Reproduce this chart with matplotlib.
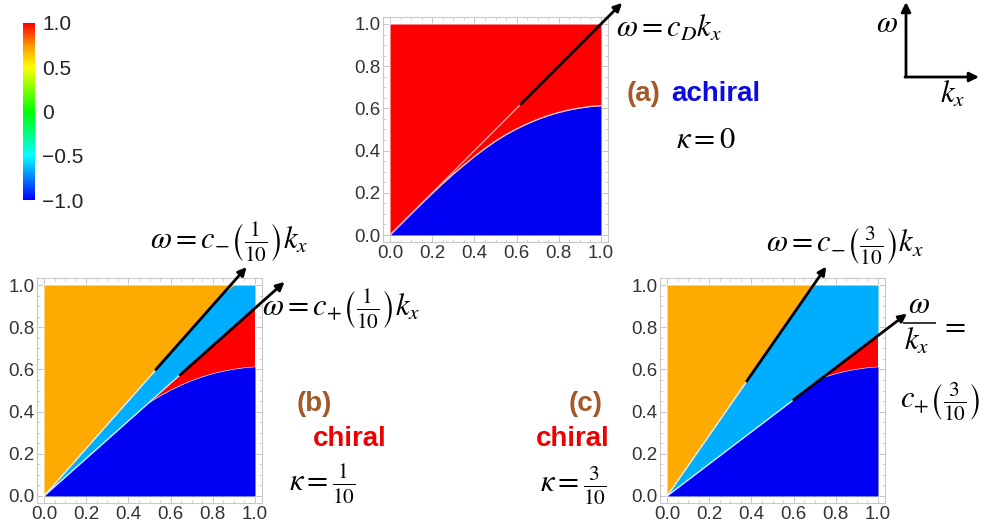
import numpy as np
import matplotlib
matplotlib.use("Agg")
import matplotlib.pyplot as plt
from matplotlib.colors import LinearSegmentedColormap, Normalize
from matplotlib.colorbar import ColorbarBase

plt.rcParams['mathtext.fontset'] = 'stix'
plt.rcParams['font.family'] = ['Liberation Sans', 'DejaVu Sans']

# ---------------- data ----------------
kx = [0.0, 0.05, 0.1, 0.15, 0.2, 0.25, 0.3, 0.35, 0.4, 0.45, 0.5,
      0.55, 0.6, 0.65, 0.7, 0.75, 0.8, 0.85, 0.9, 0.95, 1.0]
omega_curve = [0.0, 0.05, 0.1, 0.149, 0.197, 0.244, 0.289, 0.331, 0.372, 0.41, 0.445,
               0.476, 0.503, 0.527, 0.548, 0.566, 0.581, 0.593, 0.602, 0.609, 0.613]

c_D = 1.0
c_minus = {"b": 1.13, "c": 1.44}
c_plus = {"b": 0.89, "c": 0.76}

# arrow start / end k_x along each line
arrow_a = (0.62, 1.10)
arrow_b_minus = (0.53, 0.96)
arrow_b_plus = (0.645, 1.14)
arrow_c_minus = (0.378, 0.755)
arrow_c_plus = (0.60, 1.137)

cbar_ticks = [1.0, 0.5, 0.0, -0.5, -1.0]
cbar_labels = ["1.0", "0.5", "0", "\u22120.5", "\u22121.0"]
tick_vals = [0.0, 0.2, 0.4, 0.6, 0.8, 1.0]
tick_labels = ["0.0", "0.2", "0.4", "0.6", "0.8", "1.0"]

RED = "#FF0000"
BLUE = "#0000F5"
ORANGE = "#FFAA00"
LBLUE = "#00AEFF"
BROWN = "#A35A28"

W, H = 985, 532
fig = plt.figure(figsize=(W / 100, H / 100), dpi=100)

S = 211.0
M = 0.032


def make_ax(x0, y0):
    left = x0 - M * S
    bottom = y0 + M * S
    size = (1 + 2 * M) * S
    ax = fig.add_axes([left / W, 1 - bottom / H, size / W, size / H])
    ax.set_xlim(-M, 1 + M)
    ax.set_ylim(-M, 1 + M)
    for sp in ax.spines.values():
        sp.set_color("#C8C8C8")
        sp.set_linewidth(0.8)
    ax.set_xticks(tick_vals)
    ax.set_xticklabels(tick_labels)
    ax.set_yticks(tick_vals)
    ax.set_yticklabels(tick_labels)
    ax.set_xticks(np.arange(0, 1.001, 0.05), minor=True)
    ax.set_yticks(np.arange(0, 1.001, 0.05), minor=True)
    ax.tick_params(which="both", direction="in", top=True, right=True,
                   color="#BBBBBB", labelsize=13.5, labelcolor="#333333", pad=2)
    ax.tick_params(which="major", length=4, width=0.6)
    ax.tick_params(which="minor", length=2, width=0.5)
    return ax


k = np.array(kx)
w = np.array(omega_curve)
ones = np.ones_like(k)

ARROW = dict(arrowstyle="-|>", color="black", lw=2, mutation_scale=12,
             shrinkA=0, shrinkB=0)

# ---------------- panel (a) ----------------
axa = make_ax(390, 235)
axa.fill_between(k, w, ones, color=RED, lw=0)
axa.fill_between(k, 0, w, color=BLUE, lw=0)
axa.plot(k, w, color="#FFD0D0", lw=0.9)
axa.plot([0, arrow_a[0]], [0, c_D * arrow_a[0]], color="#FFB0B0", lw=0.9)
axa.annotate("", xy=(arrow_a[1], c_D * arrow_a[1]), xytext=(arrow_a[0], c_D * arrow_a[0]),
             arrowprops=ARROW, annotation_clip=False)


def chiral_panel(ax, cm, cp, am, ap):
    lm = np.minimum(cm * k, 1)
    lp = np.minimum(cp * k, 1)
    ax.fill_between(k, 0, w, color=BLUE, lw=0)
    ax.fill_between(k, lp, lm, color=LBLUE, lw=0)
    ax.fill_between(k, w, lp, where=lp >= w, interpolate=True, color=RED, lw=0)
    ax.fill_between(k, lm, ones, color=ORANGE, lw=0)
    ax.plot([0, am[0]], [0, cm * am[0]], color="#E0F0FF", lw=0.9)
    ax.plot([0, ap[0]], [0, cp * ap[0]], color="#E0F0FF", lw=0.9)
    for (s, e), c in ((am, cm), (ap, cp)):
        ax.annotate("", xy=(e, c * e), xytext=(s, c * s),
                    arrowprops=ARROW, annotation_clip=False)


axb = make_ax(44, 496)
chiral_panel(axb, c_minus["b"], c_plus["b"], arrow_b_minus, arrow_b_plus)
axc = make_ax(667, 496)
chiral_panel(axc, c_minus["c"], c_plus["c"], arrow_c_minus, arrow_c_plus)

# ---------------- colorbar ----------------
cmap = LinearSegmentedColormap.from_list(
    "rb", [(0.0, "#0000FF"), (0.25, "#00FFFF"), (0.5, "#00FF00"),
           (0.75, "#FFFF00"), (0.87, "#FF9900"), (1.0, "#FF0000")])
cax = fig.add_axes([23 / W, 1 - 200 / H, 12 / W, 177 / H])
cb = ColorbarBase(cax, cmap=cmap, norm=Normalize(-1, 1), orientation="vertical")
cb.outline.set_visible(False)
cb.set_ticks(cbar_ticks)
cb.set_ticklabels(cbar_labels)
cax.tick_params(length=0, labelsize=15, labelcolor="#222222", pad=5)

# ---------------- overlay text ----------------
ov = fig.add_axes([0, 0, 1, 1], zorder=10)
ov.set_xlim(0, W)
ov.set_ylim(H, 0)
ov.axis("off")
ov.patch.set_visible(False)

MS = 22
BS = 20
ov.text(616, 37, r"$\omega = c_D k_x$", fontsize=MS, va="baseline", ha="left")
ov.text(627, 101, "(a)", color=BROWN, fontsize=BS, fontweight="bold", va="baseline")
ov.text(671, 101, "achiral", color="#0A0AE6", fontsize=BS, fontweight="bold", va="baseline")
ov.text(676, 148, r"$\kappa = 0$", fontsize=MS, va="baseline")

# axis icon
ov.annotate("", xy=(906, 2), xytext=(906, 77),
            arrowprops=dict(arrowstyle="-|>", color="black", lw=2, mutation_scale=14,
                            shrinkA=0, shrinkB=0))
ov.annotate("", xy=(979, 77), xytext=(905, 77),
            arrowprops=dict(arrowstyle="-|>", color="black", lw=2, mutation_scale=14,
                            shrinkA=0, shrinkB=0))
ov.text(887, 32, r"$\omega$", fontsize=MS, ha="center", va="baseline")
ov.text(940, 103, r"$k_x$", fontsize=MS, ha="left", va="baseline")

ov.text(150, 249, r"$\omega = c_{-}\left(\frac{1}{10}\right)k_x$", fontsize=MS, va="baseline")
ov.text(262, 316, r"$\omega = c_{+}\left(\frac{1}{10}\right)k_x$", fontsize=MS, va="baseline")
ov.text(297, 411, "(b)", color=BROWN, fontsize=BS, fontweight="bold", va="baseline")
ov.text(313, 446, "chiral", color="#EE0000", fontsize=BS, fontweight="bold", va="baseline")
ov.text(289, 491, r"$\kappa = \frac{1}{10}$", fontsize=MS, va="baseline")

ov.text(569, 411, "(c)", color=BROWN, fontsize=BS, fontweight="bold", va="baseline")
ov.text(536, 446, "chiral", color="#EE0000", fontsize=BS, fontweight="bold", va="baseline")
ov.text(540, 493, r"$\kappa = \frac{3}{10}$", fontsize=MS, va="baseline")
ov.text(766, 253, r"$\omega = c_{-}\left(\frac{3}{10}\right)k_x$", fontsize=MS, va="baseline")

# omega / k_x =  (stacked fraction)
ov.text(919, 313, r"$\omega$", fontsize=MS, ha="center", va="baseline")
ov.plot([903, 936], [323, 323], color="black", lw=1.1, solid_capstyle="butt")
ov.text(904, 350, r"$k_x$", fontsize=MS, ha="left", va="baseline")
ov.text(940, 323, r"$=$", fontsize=MS, ha="left", va="center_baseline")
ov.text(900, 409, r"$c_{+}\left(\frac{3}{10}\right)$", fontsize=MS, va="baseline")

fig.savefig("out.png", dpi=100)
